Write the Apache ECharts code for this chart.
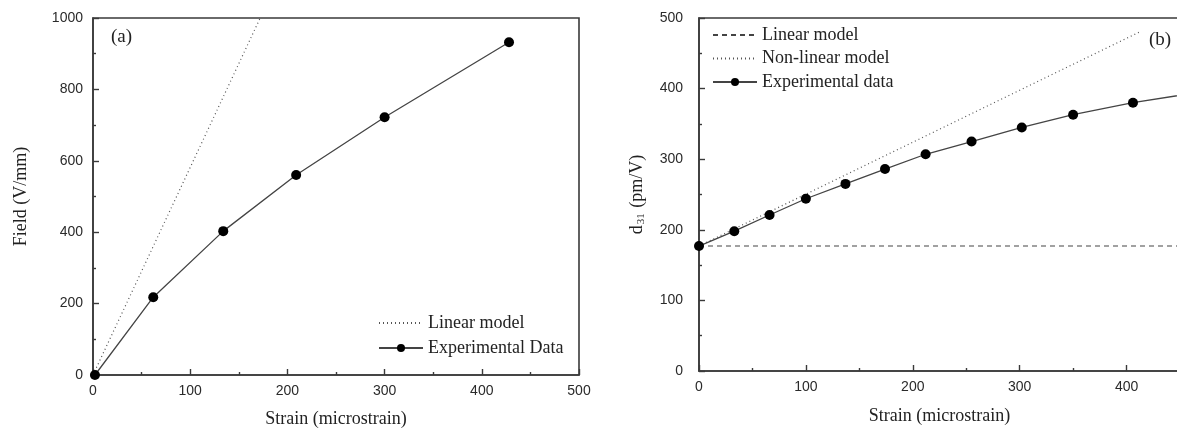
<!DOCTYPE html>
<html>
<head>
<meta charset="utf-8">
<script src="https://cdn.jsdelivr.net/npm/echarts@6/dist/echarts.min.js"></script>
<style>
  html, body { margin: 0; padding: 0; background: #fff; }
  #chart { width: 1177px; height: 429px; }
</style>
</head>
<body>
<div id="chart"></div>
<script>
// panel (a): field vs strain
const strainA = [2, 62, 134, 209, 300, 428];
const fieldA = [0, 218, 403, 560, 722, 932];
const linearStrainA = [0, 172];
const linearFieldA = [0, 1000];

// panel (b): d31 vs strain
const strainB = [0, 33, 66, 100, 137, 174, 212, 255, 302, 350, 406, 460];
const d31B = [177, 198, 221, 244, 265, 286, 307, 325, 345, 363, 380, 393];
const linearStrainB = [0, 460];
const linearD31B = [177, 177];
const nonLinStrainB = [0, 412];
const nonLinD31B = [177, 480];

const pairs = (xs, ys) => xs.map((x, i) => [x, ys[i]]);

const SANS = "Liberation Sans";
const SERIF = "Liberation Serif";
const AXIS = "#3a3a3a";

const axisBase = {
  axisLine: { show: true, lineStyle: { color: AXIS, width: 1.6 } },
  axisTick: { show: true, inside: true, length: 6, lineStyle: { color: AXIS, width: 1.4 } },
  minorTick: { show: true, splitNumber: 2, length: 3, lineStyle: { color: AXIS, width: 1.4 } },
  splitLine: { show: false },
  axisLabel: { fontFamily: SANS, fontSize: 14, color: "#2a2a2a", margin: 9, formatter: v => String(v) },
  nameTextStyle: { fontFamily: SERIF, fontSize: 18, color: "#222" },
  nameLocation: "middle"
};

const chart = echarts.init(document.getElementById("chart"));

chart.setOption({
  backgroundColor: "#fff",
  animation: false,
  title: [
    { text: "(a)", left: 111, top: 28, padding: 0, textStyle: { fontFamily: SERIF, fontSize: 19, fontWeight: "normal", color: "#222" } },
    { text: "(b)", left: 1149, top: 31, padding: 0, textStyle: { fontFamily: SERIF, fontSize: 19, fontWeight: "normal", color: "#222" } }
  ],
  grid: [
    { left: 93, top: 18, width: 486, height: 357, show: true, borderColor: AXIS, borderWidth: 1.6, outerBoundsMode: "none", containLabel: false },
    { left: 699, top: 18, width: 481, height: 353, show: true, borderColor: AXIS, borderWidth: 1.6, outerBoundsMode: "none", containLabel: false }
  ],
  xAxis: [
    Object.assign({}, axisBase, {
      gridIndex: 0, type: "value", min: 0, max: 500, interval: 100,
      name: "Strain (microstrain)", nameGap: 35
    }),
    Object.assign({}, axisBase, {
      gridIndex: 1, type: "value", min: 0, max: 450, interval: 100,
      name: "Strain (microstrain)", nameGap: 36,
      axisLabel: Object.assign({}, axisBase.axisLabel, { showMaxLabel: false })
    })
  ],
  yAxis: [
    Object.assign({}, axisBase, {
      gridIndex: 0, type: "value", min: 0, max: 1000, interval: 200,
      name: "Field (V/mm)", nameGap: 63,
      axisLabel: Object.assign({}, axisBase.axisLabel, { margin: 10 })
    }),
    Object.assign({}, axisBase, {
      gridIndex: 1, type: "value", min: 0, max: 500, interval: 100,
      name: "{d|d}{s|31}{d| (pm/V)}", nameGap: 52,
      axisLabel: Object.assign({}, axisBase.axisLabel, { margin: 16 }),
      nameTextStyle: {
        fontFamily: SERIF, fontSize: 18, color: "#222",
        rich: {
          d: { fontFamily: SERIF, fontSize: 18, color: "#222" },
          s: { fontFamily: SERIF, fontSize: 11, color: "#222", verticalAlign: "bottom", padding: [9, 1, 0, 1] }
        }
      }
    })
  ],
  legend: [
    {
      orient: "vertical", left: 373, top: 308, itemWidth: 44, itemHeight: 10, itemGap: 5,
      textStyle: { fontFamily: SERIF, fontSize: 18, color: "#222", lineHeight: 20 },
      data: [
        { name: "Linear model", itemStyle: { opacity: 0 } },
        { name: "Experimental Data" }
      ]
    },
    {
      orient: "vertical", left: 707, top: 20, itemWidth: 44, itemHeight: 10, itemGap: 3.5,
      textStyle: { fontFamily: SERIF, fontSize: 18, color: "#222", lineHeight: 20 },
      data: [
        { name: "Linear model ", itemStyle: { opacity: 0 } },
        { name: "Non-linear model", itemStyle: { opacity: 0 } },
        { name: "Experimental data" }
      ]
    }
  ],
  series: [
    {
      name: "Linear model", type: "line", xAxisIndex: 0, yAxisIndex: 0,
      data: pairs(linearStrainA, linearFieldA), symbol: "none",
      lineStyle: { color: "#555", width: 1.2, type: [1, 3] }
    },
    {
      name: "Experimental Data", type: "line", xAxisIndex: 0, yAxisIndex: 0,
      data: pairs(strainA, fieldA), symbol: "circle", symbolSize: 10,
      itemStyle: { color: "#000" },
      lineStyle: { color: "#444", width: 1.3 }
    },
    {
      name: "Linear model ", type: "line", xAxisIndex: 1, yAxisIndex: 1,
      data: pairs(linearStrainB, linearD31B), symbol: "none",
      lineStyle: { color: "#444", width: 1.1, type: [5, 4] }
    },
    {
      name: "Non-linear model", type: "line", xAxisIndex: 1, yAxisIndex: 1,
      data: pairs(nonLinStrainB, nonLinD31B), symbol: "none",
      lineStyle: { color: "#555", width: 1.2, type: [1, 3] }
    },
    {
      name: "Experimental data", type: "line", xAxisIndex: 1, yAxisIndex: 1,
      data: pairs(strainB, d31B), symbol: "circle", symbolSize: 10,
      itemStyle: { color: "#000" },
      lineStyle: { color: "#444", width: 1.3 }
    }
  ]
});

window.addEventListener("resize", () => chart.resize());
</script>
</body>
</html>
